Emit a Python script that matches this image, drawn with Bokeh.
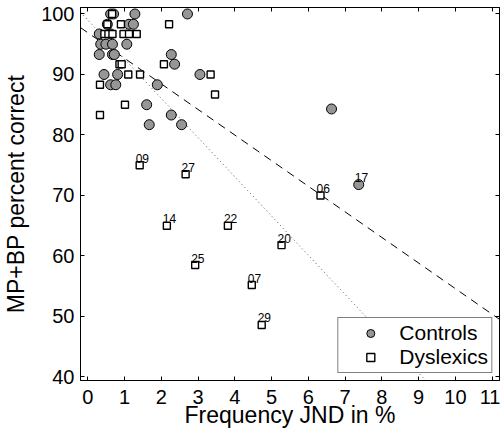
import numpy as np
from bokeh.plotting import figure
from bokeh.models import (LinearAxis, Range1d, ColumnDataSource, Legend, LegendItem,
                          FixedTicker)
from bokeh.embed import file_html
from bokeh.resources import INLINE
from bokeh.core.properties import value

# ---------------- data ----------------
ctrl_x = [0.62, 0.70, 1.28, 2.71,
          0.53, 1.12, 1.24,
          0.31, 0.62,
          0.35, 0.49, 0.67, 1.06,
          0.31, 0.67, 0.72, 2.27,
          2.36,
          0.44, 0.81, 3.05,
          0.62, 0.76, 1.89,
          1.60, 2.27, 1.67, 2.55,
          6.63, 7.37]
ctrl_y = [100, 100, 100, 100,
          98.3, 98.3, 98.3,
          96.7, 96.7,
          95.0, 95.0, 95.0, 95.0,
          93.3, 93.3, 93.3, 93.3,
          91.7,
          90.0, 90.0, 90.0,
          88.3, 88.3, 88.3,
          85.0, 83.3, 81.7, 81.7,
          84.3, 71.8]

dys_x = [0.66, 0.53, 0.90, 2.21,
         0.45, 0.56, 0.67, 0.97, 1.12, 1.33,
         0.86, 0.92, 2.07,
         1.10, 1.42, 3.34,
         0.33, 3.46, 1.01, 0.33,
         1.41, 2.66, 2.15, 3.81, 5.27, 2.92, 4.46, 4.73, 6.33]
dys_y = [100, 98.3, 98.3, 98.3,
         96.7, 96.7, 96.7, 96.7, 96.7, 96.7,
         91.7, 91.7, 91.7,
         90.0, 90.0, 90.0,
         88.3, 86.7, 85.0, 83.3,
         75.0, 73.5, 65.0, 65.0, 61.8, 58.5, 55.2, 48.6, 70.0]

lab_text = ["09", "27", "14", "22", "20", "25", "07", "29", "06", "17"]
lab_x = [1.41, 2.66, 2.15, 3.81, 5.27, 2.92, 4.46, 4.73, 6.33, 7.37]
lab_y = [75.0, 73.5, 65.0, 65.0, 61.8, 58.5, 55.2, 48.6, 70.0, 71.8]

# regression lines (intercept, slope)
fit_dashed = (96.9, -4.23)
fit_dotted = (99.0, -6.48)

x_ticks = list(range(0, 12))
y_ticks = [40, 50, 60, 70, 80, 90, 100]

FONT = "Liberation Sans"

# ---------------- figure ----------------
p = figure(width=500, height=433,
           x_range=Range1d(-0.2, 11.2), y_range=Range1d(39.42, 101.07),
           output_backend="svg", toolbar_location=None,
           min_border_left=79, min_border_right=1, min_border_top=7,
           min_border_bottom=53)
p.xgrid.visible = False
p.ygrid.visible = False
p.outline_line_color = "black"
p.outline_line_width = 1
p.background_fill_color = "white"


def style_axis(ax, ticks, show_labels=True):
    ax.ticker = FixedTicker(ticks=ticks)
    ax.major_tick_in = 4
    ax.major_tick_out = 0
    ax.minor_tick_line_color = None
    ax.axis_line_color = "black"
    ax.axis_line_width = 1
    ax.major_tick_line_color = "black"
    ax.major_label_text_font = FONT
    ax.major_label_text_color = "black"
    if show_labels:
        ax.major_label_text_font_size = "20px"
        ax.major_label_standoff = 4
    else:
        ax.major_label_text_font_size = "0px"
        ax.major_label_standoff = 0


style_axis(p.xaxis[0], x_ticks)
style_axis(p.yaxis[0], y_ticks)
p.xaxis[0].major_label_standoff = 9
p.yaxis[0].major_label_standoff = 6
p.xaxis[0].axis_label = "Frequency JND in %"
p.yaxis[0].axis_label = "MP+BP percent correct"
for ax in (p.xaxis[0], p.yaxis[0]):
    ax.axis_label_text_font = FONT
    ax.axis_label_text_font_size = "23px"
    ax.axis_label_text_font_style = "normal"
    ax.axis_label_text_color = "black"
p.xaxis[0].axis_label_standoff = -5
p.yaxis[0].axis_label_standoff = 9

top_ax = LinearAxis()
style_axis(top_ax, x_ticks, show_labels=False)
p.add_layout(top_ax, "above")
right_ax = LinearAxis()
style_axis(right_ax, y_ticks, show_labels=False)
p.add_layout(right_ax, "right")

# regression lines
xs = np.array([-0.2, 11.2])
p.line(xs, fit_dashed[0] + fit_dashed[1] * xs, line_color="black",
       line_width=1, line_dash="8 6")
p.line(xs, fit_dotted[0] + fit_dotted[1] * xs, line_color="#555555",
       line_width=1, line_dash="1 3")

src_c = ColumnDataSource(dict(x=ctrl_x, y=ctrl_y))
src_d = ColumnDataSource(dict(x=dys_x, y=dys_y))
r_c = p.scatter("x", "y", source=src_c, marker="circle", size=10,
                fill_color="#969696", line_color="black", line_width=1)
r_d = p.scatter("x", "y", source=src_d, marker="square", size=7,
                fill_color="white", line_color="black", line_width=1.4)

src_l = ColumnDataSource(dict(x=lab_x, y=lab_y, t=lab_text))
p.text("x", "y", text="t", source=src_l, x_offset=-4, y_offset=-7,
       text_font=value(FONT), text_font_size="12px", text_color="black",
       text_align="left", text_baseline="alphabetic")

legend = Legend(items=[LegendItem(label="Controls", renderers=[r_c]),
                       LegendItem(label="Dyslexics", renderers=[r_d])],
                location="bottom_right")
legend.margin = 7
legend.padding = 3
legend.spacing = 0
legend.label_height = 20
legend.glyph_height = 20
legend.glyph_width = 58
legend.label_standoff = 0
legend.label_text_font = FONT
legend.label_text_font_size = "21px"
legend.label_text_color = "black"
legend.border_line_color = "black"
legend.border_line_width = 1
legend.background_fill_color = "white"
legend.background_fill_alpha = 1
p.add_layout(legend)

open("out.html", "w").write(file_html(p, INLINE))
